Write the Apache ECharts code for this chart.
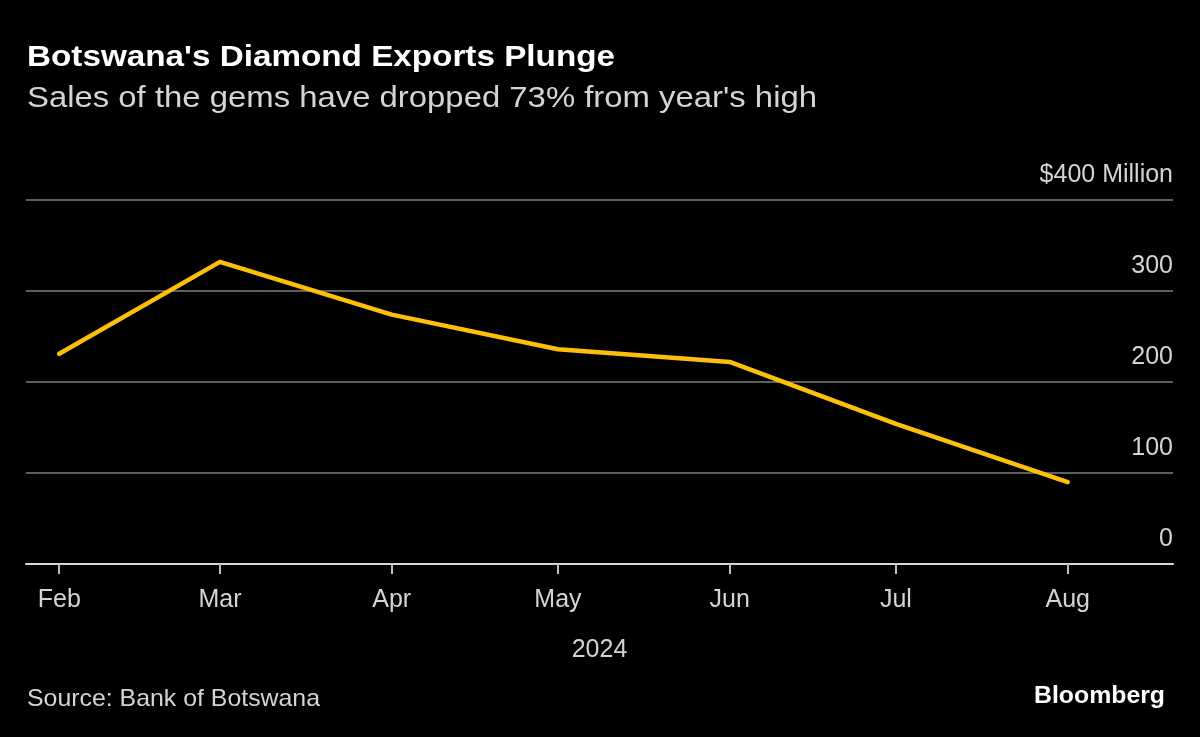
<!DOCTYPE html>
<html>
<head>
<meta charset="utf-8">
<script src="https://cdn.jsdelivr.net/npm/echarts@6/dist/echarts.min.js"></script>
<style>
  html, body { margin: 0; padding: 0; background: #000; }
  #chart { width: 1200px; height: 737px; }
</style>
</head>
<body>
<div id="chart"></div>
<script>
const dates = ['2024-02-01', '2024-03-01', '2024-04-01', '2024-05-01', '2024-06-01', '2024-07-01', '2024-08-01'];
const exportsMillion = [231, 332, 274, 236, 222, 154, 90];
const monthNames = ['Jan', 'Feb', 'Mar', 'Apr', 'May', 'Jun', 'Jul', 'Aug', 'Sep', 'Oct', 'Nov', 'Dec'];
const yTicks = [0, 100, 200, 300, 400];

const titleText = "Botswana's Diamond Exports Plunge";
const subtitleText = "Sales of the gems have dropped 73% from year's high";
const sourceText = 'Source: Bank of Botswana';
const brandText = 'Bloomberg';

const FONT_NAME = '"Liberation Sans", Arial, sans-serif';

// measure helper for horizontal stretch (the reference typeface is wider)
const mctx = document.createElement('canvas').getContext('2d');
function stretch(text, font, target) {
  mctx.font = font;
  const w = mctx.measureText(text).width;
  return w > 0 ? target / w : 1;
}

function textEl(text, x, y, size, weight, color, target, align) {
  const font = weight + ' ' + size + 'px ' + FONT_NAME;
  const s = stretch(text, font, target);
  return {
    type: 'text',
    x: x, y: y,
    scaleX: s, scaleY: 1,
    silent: true,
    style: {
      text: text, x: 0, y: 0,
      font: font,
      fill: color,
      align: align || 'left',
      verticalAlign: 'middle'
    }
  };
}

const chart = echarts.init(document.getElementById('chart'), null, { renderer: 'canvas' });

chart.setOption({
  backgroundColor: '#000000',
  animation: false,
  graphic: [
    textEl(titleText, 27, 58, 30, 'bold', '#ffffff', 588),
    textEl(subtitleText, 27, 99, 30, 'normal', '#d4d4d4', 790),
    textEl(sourceText, 27, 699, 24, 'normal', '#d4d4d4', 293),
    textEl(brandText, 1165, 696, 24, 'bold', '#ffffff', 131, 'right')
  ],
  grid: { left: 26, right: 27, top: 200, bottom: 173, containLabel: false },
  xAxis: {
    type: 'time',
    min: new Date(2024, 0, 26).getTime(),
    max: new Date(2024, 7, 20).getTime(),
    minInterval: 28 * 86400000,
    maxInterval: 31 * 86400000,
    name: '2024',
    nameLocation: 'middle',
    nameGap: 74,
    nameTextStyle: { color: '#d4d4d4', fontFamily: FONT_NAME, fontSize: 25 },
    axisLine: { show: true, lineStyle: { color: '#d8d8d8', width: 2 } },
    axisTick: { show: true, length: 10, lineStyle: { color: '#bbbbbb', width: 2 } },
    splitLine: { show: false },
    axisLabel: {
      color: '#d4d4d4', fontFamily: FONT_NAME, fontSize: 25, margin: 24,
      formatter: function (v) { return monthNames[new Date(v).getMonth()]; }
    }
  },
  yAxis: {
    type: 'value',
    position: 'right',
    min: 0, max: 400, interval: 100,
    axisLine: { show: false },
    axisTick: { show: false },
    splitLine: { show: true, lineStyle: { color: '#5e5e5e', width: 2 } },
    axisLabel: {
      inside: true, margin: 0,
      color: '#d4d4d4', fontFamily: FONT_NAME, fontSize: 25,
      verticalAlign: 'bottom', lineHeight: 25, padding: [0, 0, 12, 0],
      formatter: function (v) { return v === yTicks[yTicks.length - 1] ? '$' + v + ' Million' : String(v); }
    }
  },
  series: [{
    type: 'line',
    data: dates.map((d, i) => [d, exportsMillion[i]]),
    showSymbol: false,
    symbol: 'none',
    lineStyle: { color: '#fcbf0a', width: 4.5, cap: 'round', join: 'round' },
    z: 5
  }]
});
</script>
</body>
</html>
